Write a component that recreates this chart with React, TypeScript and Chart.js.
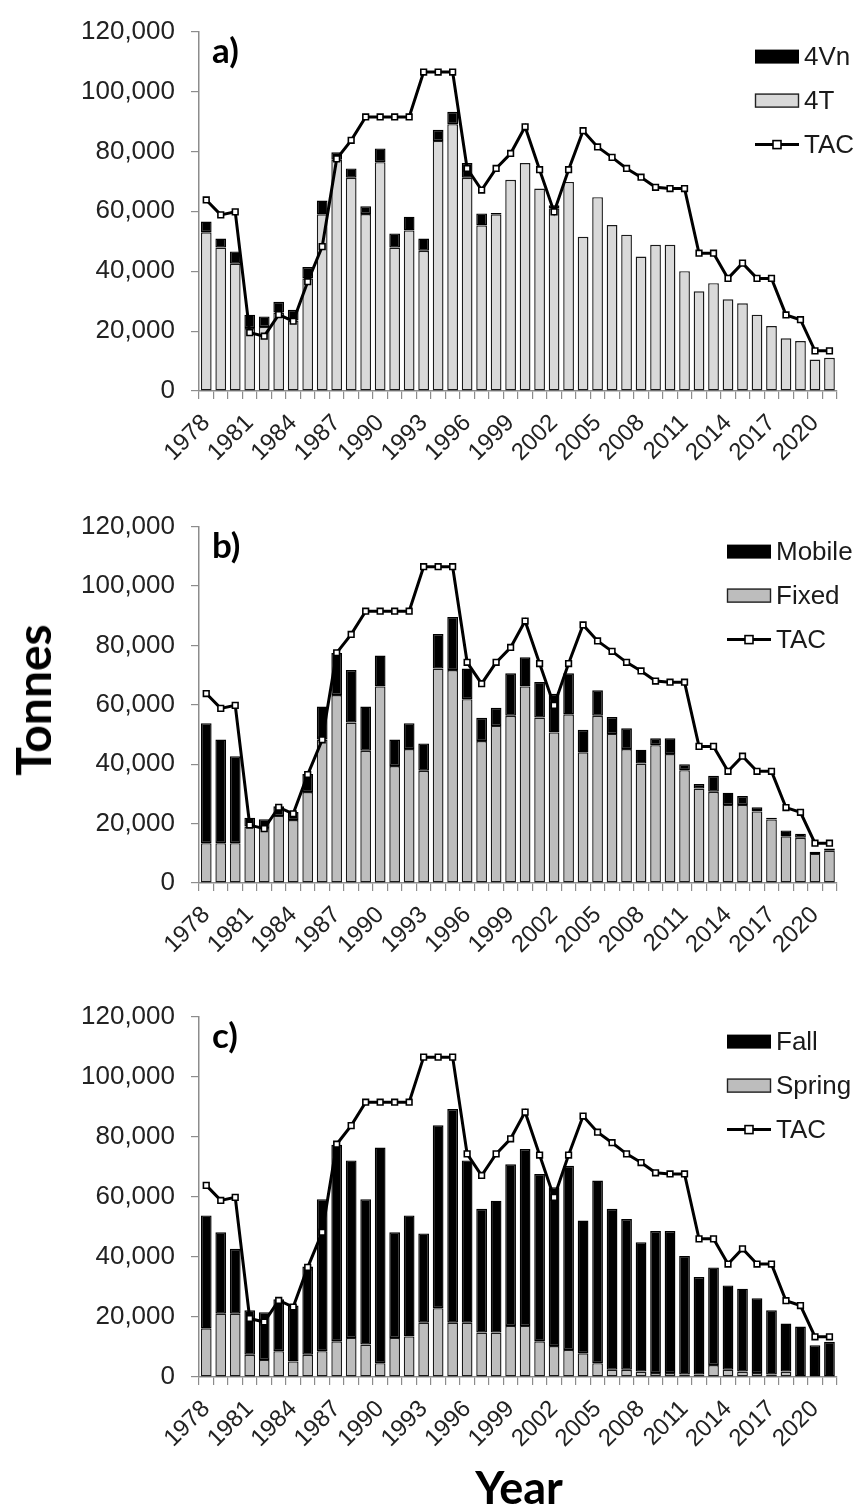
import React, { useEffect, useRef } from 'react';
import { Chart, registerables } from 'chart.js';

Chart.register(...registerables);

const years = [
  '1978', '1979', '1980', '1981', '1982', '1983', '1984', '1985', '1986', '1987',
  '1988', '1989', '1990', '1991', '1992', '1993', '1994', '1995', '1996', '1997',
  '1998', '1999', '2000', '2001', '2002', '2003', '2004', '2005', '2006', '2007',
  '2008', '2009', '2010', '2011', '2012', '2013', '2014', '2015', '2016', '2017',
  '2018', '2019', '2020', '2021',
];

const yTicks = [0, 20000, 40000, 60000, 80000, 100000, 120000];

const tac = [
  63800, 58800, 59800, 19500, 18300, 25500, 23300, 36500, 48200, 77500,
  83700, 91500, 91500, 91500, 91500, 106500, 106500, 106500, 74300, 67100,
  74300, 79300, 88200, 73900, 59800, 73900, 86900, 81500, 78000, 74300,
  71400, 68000, 67600, 67600, 46000, 46000, 37600, 42700, 37600, 37600,
  25400, 23800, 13400, 13400,
];

const catch4T = [
  53000, 47900, 42500, 21000, 21400, 26200, 23500, 37600, 59000, 77200,
  71200, 59100, 76400, 47900, 53600, 46800, 83500, 89100, 71200, 55300,
  59000, 70500, 76100, 67600, 61000, 69800, 51500, 64700, 55400, 52200,
  44900, 48800, 48800, 40000, 33300, 36000, 30600, 29300, 25500, 21700,
  17600, 16700, 10500, 11100,
];

const catch4Vn = [
  3600, 3000, 4100, 4500, 3500, 3600, 3600, 3800, 4600, 2500,
  3100, 2600, 4600, 4700, 4600, 4100, 3700, 4100, 4900, 4000,
  400, 0, 0, 0, 1000, 0, 0, 0, 0, 0,
  0, 0, 0, 0, 0, 0, 0, 0, 0, 0,
  0, 0, 0, 0,
];

const gearFixed = [
  13400, 13400, 13400, 19000, 18500, 22600, 21200, 30600, 48300, 63300,
  54000, 44500, 66200, 39400, 45100, 37800, 72200, 71700, 61900, 47800,
  52900, 56300, 66200, 55700, 50700, 56800, 44000, 56300, 50200, 45100,
  40200, 46400, 43400, 38000, 31800, 30700, 26300, 26300, 24100, 21400,
  15700, 15200, 9800, 10900,
];

const gearMobile = [
  40400, 34900, 29300, 3000, 3000, 3200, 2700, 6100, 11100, 14100,
  17700, 14900, 10400, 8900, 8700, 9200, 11600, 17900, 10300, 7800,
  6100, 14300, 9800, 12000, 13000, 13800, 7600, 8600, 5700, 7000,
  4700, 2300, 5300, 2000, 1500, 5400, 4100, 3000, 1400, 600,
  2000, 1400, 700, 700,
];

const seasonSpring = [
  16200, 21100, 21100, 7400, 5700, 8600, 5200, 7400, 8600, 11900,
  13000, 10800, 4600, 13000, 13500, 18100, 22900, 18100, 18100, 14800,
  14800, 17000, 17000, 11900, 10300, 9000, 7900, 4600, 2400, 2400,
  1800, 1300, 1300, 800, 800, 4000, 2400, 1800, 1300, 800,
  1800, 0, 0, 0,
];

const seasonFall = [
  37600, 27100, 21600, 14800, 15900, 17300, 18600, 29400, 50600, 65400,
  59100, 48400, 71800, 35200, 40300, 29700, 60900, 71100, 54000, 41200,
  43900, 53800, 58900, 55700, 52900, 61300, 44200, 60800, 53600, 50200,
  43100, 47300, 47300, 39500, 32500, 32500, 28100, 27600, 24900, 21400,
  16000, 16800, 10600, 11700,
];

const FONT = '"Liberation Sans", Arial, Helvetica, sans-serif';
const BOLD = 'Lato, "Open Sans", "DejaVu Sans", sans-serif';

type Panel = {
  label: string;
  top: number;
  height: number;
  plotTop: number;
  plotBottom: number;
  legendX: number;
  topName: string;
  topData: number[];
  topColor: string;
  bottomName: string;
  bottomData: number[];
  bottomColor: string;
};

const panels: Panel[] = [
  {
    label: 'a)', top: 0, height: 495, plotTop: 22, plotBottom: 391, legendX: 755,
    topName: '4Vn', topData: catch4Vn, topColor: '#000000',
    bottomName: '4T', bottomData: catch4T, bottomColor: '#d9d9d9',
  },
  {
    label: 'b)', top: 495, height: 490, plotTop: 20, plotBottom: 388, legendX: 727,
    topName: 'Mobile', topData: gearMobile, topColor: '#000000',
    bottomName: 'Fixed', bottomData: gearFixed, bottomColor: '#bdbdbd',
  },
  {
    label: 'c)', top: 985, height: 480, plotTop: 22, plotBottom: 392, legendX: 727,
    topName: 'Fall', topData: seasonFall, topColor: '#000000',
    bottomName: 'Spring', bottomData: seasonSpring, bottomColor: '#bdbdbd',
  },
];

function PanelChart({ p }: { p: Panel }) {
  const ref = useRef<HTMLCanvasElement | null>(null);

  useEffect(() => {
    if (!ref.current) return;
    const deco = {
      id: 'deco',
      afterDraw(chart: any) {
        const ctx = chart.ctx as CanvasRenderingContext2D;
        const ca = chart.chartArea;
        ctx.save();
        ctx.fillStyle = '#000';
        ctx.textAlign = 'left';
        ctx.textBaseline = 'alphabetic';
        ctx.font = `bold 35px ${BOLD}`;
        ctx.fillText(p.label, 212, ca.top + 31);

        const rows = [ca.top + 25, ca.top + 69, ca.top + 113];
        const bx = p.legendX;
        const bw = 44;
        const bh = 14;
        ctx.fillStyle = p.topColor;
        ctx.fillRect(bx, rows[0] - bh / 2, bw, bh);
        ctx.fillStyle = p.bottomColor;
        ctx.fillRect(bx, rows[1] - bh / 2, bw, bh);
        ctx.strokeStyle = '#222';
        ctx.lineWidth = 1.4;
        ctx.strokeRect(bx + 0.5, rows[1] - bh / 2 + 0.5, bw - 1, bh - 1);

        ctx.strokeStyle = '#000';
        ctx.lineWidth = 3;
        ctx.beginPath();
        ctx.moveTo(bx, rows[2]);
        ctx.lineTo(bx + bw, rows[2]);
        ctx.stroke();
        ctx.fillStyle = '#fff';
        ctx.fillRect(bx + bw / 2 - 4, rows[2] - 4, 8, 8);
        ctx.lineWidth = 1.6;
        ctx.strokeRect(bx + bw / 2 - 4, rows[2] - 4, 8, 8);

        ctx.font = `26px ${FONT}`;
        ctx.fillStyle = '#1a1a1a';
        ctx.textBaseline = 'middle';
        ctx.fillText(p.topName, bx + bw + 5, rows[0] + 1);
        ctx.fillText(p.bottomName, bx + bw + 5, rows[1] + 1);
        ctx.fillText('TAC', bx + bw + 5, rows[2] + 1);
        ctx.restore();
      },
    };

    const chart = new Chart(ref.current, {
      type: 'bar',
      data: {
        labels: years,
        datasets: [
          {
            type: 'line',
            label: 'TAC',
            data: tac,
            stack: 'tac',
            order: 0,
            borderColor: '#000',
            borderWidth: 3,
            pointStyle: 'rect',
            pointRadius: 4,
            pointBackgroundColor: '#fff',
            pointBorderColor: '#000',
            pointBorderWidth: 1.6,
            tension: 0,
          } as any,
          {
            type: 'bar',
            label: p.bottomName,
            data: p.bottomData,
            stack: 'catch',
            order: 1,
            backgroundColor: p.bottomColor,
            borderColor: '#1a1a1a',
            borderWidth: 1.4,
            borderSkipped: false,
            barPercentage: 0.74,
            categoryPercentage: 1,
          },
          {
            type: 'bar',
            label: p.topName,
            data: p.topData.map((v) => (v === 0 ? null : v)),
            stack: 'catch',
            order: 1,
            backgroundColor: p.topColor,
            borderColor: '#000',
            borderWidth: 1.4,
            borderSkipped: false,
            barPercentage: 0.74,
            categoryPercentage: 1,
          },
        ],
      },
      options: {
        animation: false,
        responsive: false,
        devicePixelRatio: 1,
        layout: { padding: { left: 0, right: 15, top: p.plotTop, bottom: 0 } },
        plugins: {
          legend: { display: false },
          tooltip: { enabled: false },
        },
        scales: {
          x: {
            stacked: true,
            offset: true,
            grid: {
              display: true,
              drawOnChartArea: false,
              offset: true,
              tickLength: 8,
              color: '#8c8c8c',
              lineWidth: 1.2,
            },
            border: { display: true, color: '#8c8c8c', width: 1.5 },
            ticks: {
              autoSkip: false,
              maxRotation: 45,
              minRotation: 45,
              padding: 10,
              color: '#222',
              font: { family: FONT, size: 24 },
              callback: (_v: any, i: number) => (i % 3 === 0 ? years[i] : ''),
            },
            afterFit: (s: any) => {
              s.height = p.height - p.plotBottom;
            },
          },
          y: {
            stacked: true,
            min: yTicks[0],
            max: yTicks[yTicks.length - 1],
            afterBuildTicks: (s: any) => {
              s.ticks = yTicks.map((v) => ({ value: v }));
            },
            grid: {
              display: true,
              drawOnChartArea: false,
              tickLength: 8,
              color: '#8c8c8c',
              lineWidth: 1.2,
            },
            border: { display: true, color: '#8c8c8c', width: 1.5 },
            ticks: {
              padding: 16,
              color: '#222',
              font: { family: FONT, size: 26 },
              callback: (v: any) => Number(v).toLocaleString('en-US'),
            },
            afterFit: (s: any) => {
              s.width = 199;
            },
          },
        },
      },
      plugins: [deco],
    } as any);

    return () => chart.destroy();
  }, [p]);

  return (
    <canvas
      ref={ref}
      width={860}
      height={p.height}
      style={{ position: 'absolute', left: 0, top: p.top, width: 860, height: p.height }}
    />
  );
}

export default function App() {
  return (
    <div
      style={{
        position: 'absolute',
        left: 0,
        top: 0,
        width: 860,
        height: 1511,
        background: '#fff',
        overflow: 'hidden',
      }}
    >
      {panels.map((p) => (
        <PanelChart key={p.label} p={p} />
      ))}
      <div
        style={{
          position: 'absolute',
          left: 33,
          top: 700,
          transform: 'translate(-50%, -50%) rotate(-90deg)',
          fontFamily: BOLD,
          fontWeight: 700,
          fontSize: 48,
          lineHeight: 1,
          whiteSpace: 'nowrap',
          color: '#000',
        }}
      >
        Tonnes
      </div>
      <div
        style={{
          position: 'absolute',
          left: 519,
          top: 1487,
          transform: 'translate(-50%, -50%)',
          fontFamily: BOLD,
          fontWeight: 700,
          fontSize: 45,
          lineHeight: 1,
          whiteSpace: 'nowrap',
          color: '#000',
        }}
      >
        Year
      </div>
    </div>
  );
}
